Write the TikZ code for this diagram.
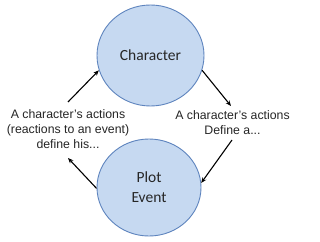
\documentclass[tikz,border=0pt]{standalone}
\usepackage{fontspec}
\setmainfont{Liberation Sans}
\newfontfamily\calib{Carlito}
\usetikzlibrary{shapes.geometric,arrows.meta}
\definecolor{cfill}{HTML}{C6D9F1}
\definecolor{cline}{HTML}{5E84BE}
\newcommand{\apos}{{\char"27}}
\begin{document}
\begin{tikzpicture}[x=1pt,y=1pt,
  bubble/.style={ellipse,draw=cline,fill=cfill,line width=0.9pt,inner sep=0pt,
    font=\calib\fontsize{15.5}{20}\selectfont,align=center,text=black!85},
  lbl/.style={font=\fontsize{12.3}{15}\selectfont,align=center,inner sep=0pt,text=black!85},
  arr/.style={line width=1.1pt,-{Stealth[length=5.5pt,width=4.5pt]}}]
\useasboundingbox (0,0) rectangle (320,241);
\fill[white] (0,0) rectangle (320,241);
\node[bubble,minimum width=107pt,minimum height=101pt] (char) at (150.5,185.5) {Character};
\node[bubble,minimum width=104pt,minimum height=97pt] (plot) at (149,53.5) {Plot\\Event};
\node[lbl] (left) at (68,112) {A character\apos s actions\\(reactions to an event)\\define his...};
\node[lbl] (right) at (232.5,118.5) {A character\apos s actions\\Define a...};
\coordinate (a1) at (68,139);
\coordinate (a2) at (231,135);
\coordinate (a3) at (232,101);
\coordinate (a4) at (68,83);
\draw[arr] (a1) -- (char.196);
\draw[arr] (char.344) -- (a2);
\draw[arr] (a3) -- (plot.5);
\draw[arr] (plot.181) -- (a4);
\end{tikzpicture}
\end{document}
